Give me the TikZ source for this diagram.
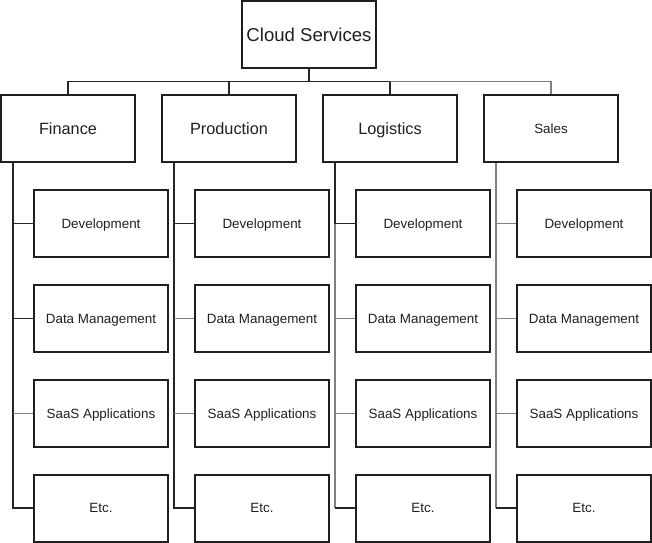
\documentclass[tikz,border=0pt]{standalone}
\usepackage{fontspec}
\setmainfont{Liberation Sans}
\begin{document}
\begin{tikzpicture}[x=1pt,y=-1pt,
  box/.style={draw=black!88,line width=2pt,minimum width=134pt,minimum height=67pt,inner sep=0pt,text=black!88,text depth=0pt},
  rootfont/.style={font=\fontsize{18.6}{20}\selectfont,text height=13.3pt},
  topfont/.style={font=\fontsize{16.3}{18}\selectfont,text height=11.7pt},
  smallfont/.style={font=\fontsize{13.4}{15}\selectfont,text height=9.6pt},
  dark/.style={draw=black!85,line width=1.6pt},
  darkthin/.style={draw=black!85,line width=1.1pt},
  light/.style={draw=black!50,line width=1.1pt}]
\useasboundingbox (0,0) rectangle (652,542);
% root
\node[box,rootfont] (cloud) at (309,34.5) {Cloud Services};
% departments
\node[box,topfont] (fin) at (68,128.5) {Finance};
\node[box,topfont] (pro) at (229,128.5) {Production};
\node[box,topfont] (log) at (390,128.5) {Logistics};
\node[box,smallfont] (sal) at (551,128.5) {Sales};
% children
\foreach \d/\x in {fin/101,pro/262,log/423,sal/584}{
  \node[box,smallfont] (\d dev) at (\x,223.5) {Development};
  \node[box,smallfont] (\d dat) at (\x,318.5) {Data Management};
  \node[box,smallfont] (\d saa) at (\x,413.5) {SaaS Applications};
  \node[box,smallfont] (\d etc) at (\x,508) {Etc.};
}
% bus
\coordinate (bus) at (309,81.5);
\draw[dark] (cloud.south) -- (bus);
\draw[dark] (fin.north) |- (bus);
\draw[dark] (pro.north) |- (bus);
\draw[dark] (log.north) |- (bus);
\draw[light] (sal.north) |- (log.north |- bus);
% trunks
\coordinate (finT) at ([xshift=13pt]fin.south west);
\coordinate (proT) at ([xshift=13pt]pro.south west);
\coordinate (logT) at ([xshift=13pt]log.south west);
\coordinate (salT) at ([xshift=13pt]sal.south west);
\draw[dark] (finT) |- (finetc.west);
\draw[darkthin] (proT) |- (proetc.west);
\draw[dark] (logT) |- (logdev.west);
\draw[light] (logdev.west -| logT) -- (logetc.west -| logT);
\draw[darkthin] (logetc.west -| logT) -- (logetc.west);
\draw[light] (salT) -- (saletc.west -| salT);
\draw[darkthin] (saletc.west -| salT) -- (saletc.west);
% branches
\draw[dark] (findev.west) -- (findev.west -| finT);
\draw[dark] (findat.west) -- (findat.west -| finT);
\draw[light] (finsaa.west) -- (finsaa.west -| finT);
\draw[dark] (prodev.west) -- (prodev.west -| proT);
\draw[light] (prodat.west) -- (prodat.west -| proT);
\draw[light] (prosaa.west) -- (prosaa.west -| proT);
\draw[light] (logdat.west) -- (logdat.west -| logT);
\draw[light] (logsaa.west) -- (logsaa.west -| logT);
\draw[light] (saldev.west) -- (saldev.west -| salT);
\draw[light] (saldat.west) -- (saldat.west -| salT);
\draw[light] (salsaa.west) -- (salsaa.west -| salT);
\end{tikzpicture}
\end{document}
